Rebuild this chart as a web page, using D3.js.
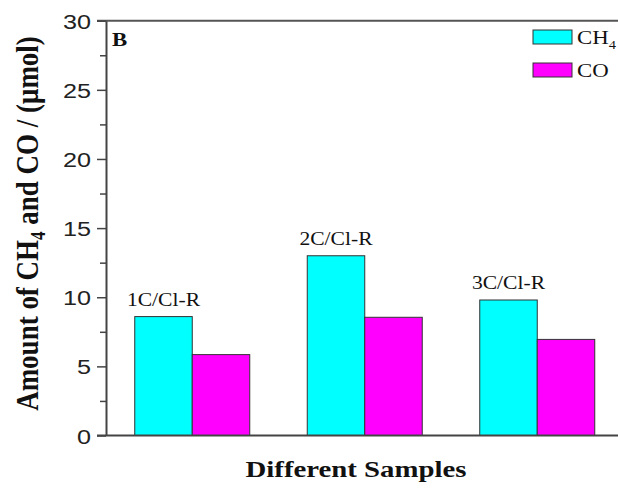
<!DOCTYPE html>
<html lang="en">
<head>
  <meta charset="UTF-8">
  <title>Amount of CH4 and CO</title>
  <style>
    body { margin: 0; background: #fff; }
    .serif { font-family: "Liberation Serif", "Times New Roman", serif; fill: #111; }
    .tick-label { font-family: "Liberation Sans", Arial, sans-serif; font-size: 21px; fill: #222; }
  </style>
</head>
<body>
  <div id="chart"></div>
  <script src="https://d3js.org/d3.v7.min.js"></script>
  <script>
    // data
    const samples = ['1C/Cl-R', '2C/Cl-R', '3C/Cl-R'];
    const series = ['CH4', 'CO'];
    const ch4 = [8.6, 13.0, 9.8];
    const co = [5.85, 8.55, 6.95];
    const yTicks = [0, 5, 10, 15, 20, 25, 30];
    const yMinor = [2.5, 7.5, 12.5, 17.5, 22.5, 27.5];
    const colors = ['#00ffff', '#ff00ff'];

    const width = 618;
    const height = 489;
    const stretch = 1.2; // the source figure's text is a bit wide

    const svg = d3.select('#chart')
      .append('svg')
      .attr('width', width)
      .attr('height', height);

    const x0 = d3.scaleBand()
      .domain(samples)
      .range([106, 623.5])
      .paddingInner(1 / 3)
      .paddingOuter(1 / 6);

    const x1 = d3.scaleBand()
      .domain(series)
      .range([0, x0.bandwidth()]);

    const y = d3.scaleLinear()
      .domain([0, 30])
      .range([435.5, 20.7]);

    const color = d3.scaleOrdinal().domain(series).range(colors);

    const rows = samples.map((s, i) => ({ sample: s, values: [
      { key: 'CH4', value: ch4[i] },
      { key: 'CO', value: co[i] }
    ] }));

    // bars
    const groups = svg.selectAll('.group')
      .data(rows)
      .enter()
      .append('g')
      .attr('class', 'group')
      .attr('transform', d => `translate(${x0(d.sample)},0)`);

    groups.selectAll('rect')
      .data(d => d.values)
      .enter()
      .append('rect')
      .attr('x', d => x1(d.key))
      .attr('y', d => y(d.value))
      .attr('width', x1.bandwidth())
      .attr('height', d => y(0) - y(d.value))
      .attr('fill', d => color(d.key))
      .attr('stroke', '#333')
      .attr('stroke-width', 1);

    // sample labels over the CH4 bar
    groups.append('text')
      .attr('class', 'serif')
      .attr('text-anchor', 'middle')
      .attr('font-size', 18)
      .attr('transform', d => `translate(${x1('CH4') + x1.bandwidth() / 2},${y(d.values[0].value) - 11}) scale(${stretch},1)`)
      .text(d => d.sample);

    // frame: top line and bottom axis line
    svg.append('line')
      .attr('x1', 97).attr('x2', width)
      .attr('y1', y(30)).attr('y2', y(30))
      .attr('stroke', '#555').attr('stroke-width', 2);

    svg.append('line')
      .attr('x1', 97).attr('x2', width)
      .attr('y1', y(0)).attr('y2', y(0))
      .attr('stroke', '#444').attr('stroke-width', 2);

    // y axis
    const yAxis = svg.append('g')
      .attr('transform', 'translate(106,0)')
      .call(d3.axisLeft(y).tickValues(yTicks).tickSize(9).tickSizeOuter(0));

    yAxis.select('.domain').attr('stroke', '#444').attr('stroke-width', 2);
    yAxis.selectAll('.tick line').attr('stroke', '#444').attr('stroke-width', 1.5);
    yAxis.selectAll('.tick text')
      .attr('class', 'tick-label')
      .attr('x', 0)
      .attr('dy', '0.36em')
      .attr('transform', `translate(-15,0) scale(${stretch},1)`);

    svg.append('g')
      .attr('transform', 'translate(106,0)')
      .call(d3.axisLeft(y).tickValues(yMinor).tickSize(6).tickFormat(''))
      .call(g => g.select('.domain').remove())
      .selectAll('.tick line').attr('stroke', '#444').attr('stroke-width', 1.5);

    // panel letter
    svg.append('text')
      .attr('class', 'serif')
      .attr('font-weight', 'bold')
      .attr('font-size', 19)
      .attr('transform', `translate(112,46) scale(${stretch},1)`)
      .text('B');

    // axis titles
    svg.append('text')
      .attr('class', 'serif')
      .attr('font-weight', 'bold')
      .attr('font-size', 24)
      .attr('text-anchor', 'middle')
      .attr('transform', `translate(356,477) scale(${stretch},1)`)
      .text('Different Samples');

    const yTitle = svg.append('text')
      .attr('class', 'serif')
      .attr('font-weight', 'bold')
      .attr('font-size', 27)
      .attr('text-anchor', 'middle')
      .attr('transform', `translate(37.5,223.5) rotate(-90) scale(1,${stretch})`);
    yTitle.append('tspan').text('Amount of CH');
    yTitle.append('tspan').attr('font-size', 17).attr('dy', 6).text('4');
    yTitle.append('tspan').attr('dy', -6).text(' and CO / (\u03bcmol)');

    // legend
    const legend = svg.selectAll('.legend')
      .data(series)
      .enter()
      .append('g')
      .attr('class', 'legend')
      .attr('transform', (d, i) => `translate(533,${30 + i * 33})`);

    legend.append('rect')
      .attr('width', 39)
      .attr('height', 14)
      .attr('fill', d => color(d))
      .attr('stroke', '#333')
      .attr('stroke-width', 1);

    const legText = legend.append('text')
      .attr('class', 'serif')
      .attr('font-size', 19)
      .attr('transform', `translate(44,14) scale(${stretch},1)`);

    legText.each(function (d) {
      const t = d3.select(this);
      if (d === 'CH4') {
        t.append('tspan').text('CH');
        t.append('tspan').attr('font-size', 12).attr('dy', 5).text('4');
      } else {
        t.text(d);
      }
    });
  </script>
</body>
</html>
